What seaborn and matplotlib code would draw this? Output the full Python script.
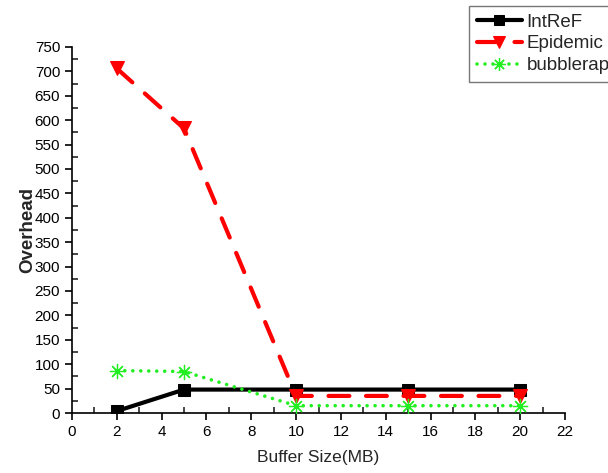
import matplotlib
matplotlib.use("Agg")
import matplotlib.pyplot as plt
import seaborn as sns
import pandas as pd
from matplotlib.ticker import MultipleLocator

buffer_size = [2, 5, 10, 15, 20]
intref = [4, 48, 48, 48, 48]
epidemic = [706, 583, 35, 35, 35]
bubblerap = [87, 85, 15, 15, 15]
series_names = ["IntReF", "Epidemic", "bubblerap"]
x_ticks = list(range(0, 23, 2))
y_ticks = list(range(0, 751, 50))

sns.set_style("ticks")
plt.rcParams['font.family'] = ['Liberation Sans', 'DejaVu Sans']

fig = plt.figure(figsize=(6.08, 4.73), dpi=100)
ax = fig.add_axes([72/608, 1-413/473, (565-72)/608, (413-47)/473])

df = pd.DataFrame({"x": buffer_size, "IntReF": intref, "Epidemic": epidemic, "bubblerap": bubblerap})

sns.lineplot(data=df, x="x", y="IntReF", ax=ax, color="black", lw=3, marker="s",
             markersize=8, markeredgecolor="black", label=series_names[0], zorder=3)
sns.lineplot(data=df, x="x", y="Epidemic", ax=ax, color="#ff0000", lw=3, marker="v",
             markersize=10, markeredgecolor="#ff0000", label=series_names[1], zorder=4)
ax.lines[-1].set_dashes((5, 4))
ax.lines[-1].set_dash_capstyle("round")
sns.lineplot(data=df, x="x", y="bubblerap", ax=ax, color="#22ee22", lw=2.6, marker=(8, 2, 0),
             markersize=11, markeredgecolor="#22ee22", markeredgewidth=0.9, label=series_names[2], zorder=5)
ax.lines[-1].set_dashes((0.01, 2.2))
ax.lines[-1].set_dash_capstyle("round")

ax.set_xlim(0, 22)
ax.set_ylim(0, 750)
ax.set_xticks(x_ticks)
ax.set_yticks(y_ticks)
ax.xaxis.set_minor_locator(MultipleLocator(1))
ax.yaxis.set_minor_locator(MultipleLocator(25))
ax.tick_params(which="major", direction="out", length=5, width=1.2, labelsize=11, colors="black")
ax.tick_params(which="minor", direction="in", length=4, width=1.2)
for s in ["top", "right"]:
    ax.spines[s].set_visible(False)
for s in ["left", "bottom"]:
    ax.spines[s].set_linewidth(1.2)
    ax.spines[s].set_color("black")

ax.set_xlabel("Buffer Size(MB)", fontsize=12.5, labelpad=8)
ax.set_ylabel("Overhead", fontsize=13.5, fontweight="bold", labelpad=-1)

handles, labels = ax.get_legend_handles_labels()
ax.get_legend().remove()
leg = fig.legend(handles, labels, loc="upper left", bbox_to_anchor=(469/608, 1-6/473),
                 fontsize=13.5, frameon=True, fancybox=False, edgecolor="#555555",
                 handlelength=2.4, handletextpad=0.27, borderpad=0.4, labelspacing=0.25,
                 borderaxespad=0, markerscale=0.85)
leg.get_frame().set_linewidth(1)

fig.savefig("out.png", dpi=100)
